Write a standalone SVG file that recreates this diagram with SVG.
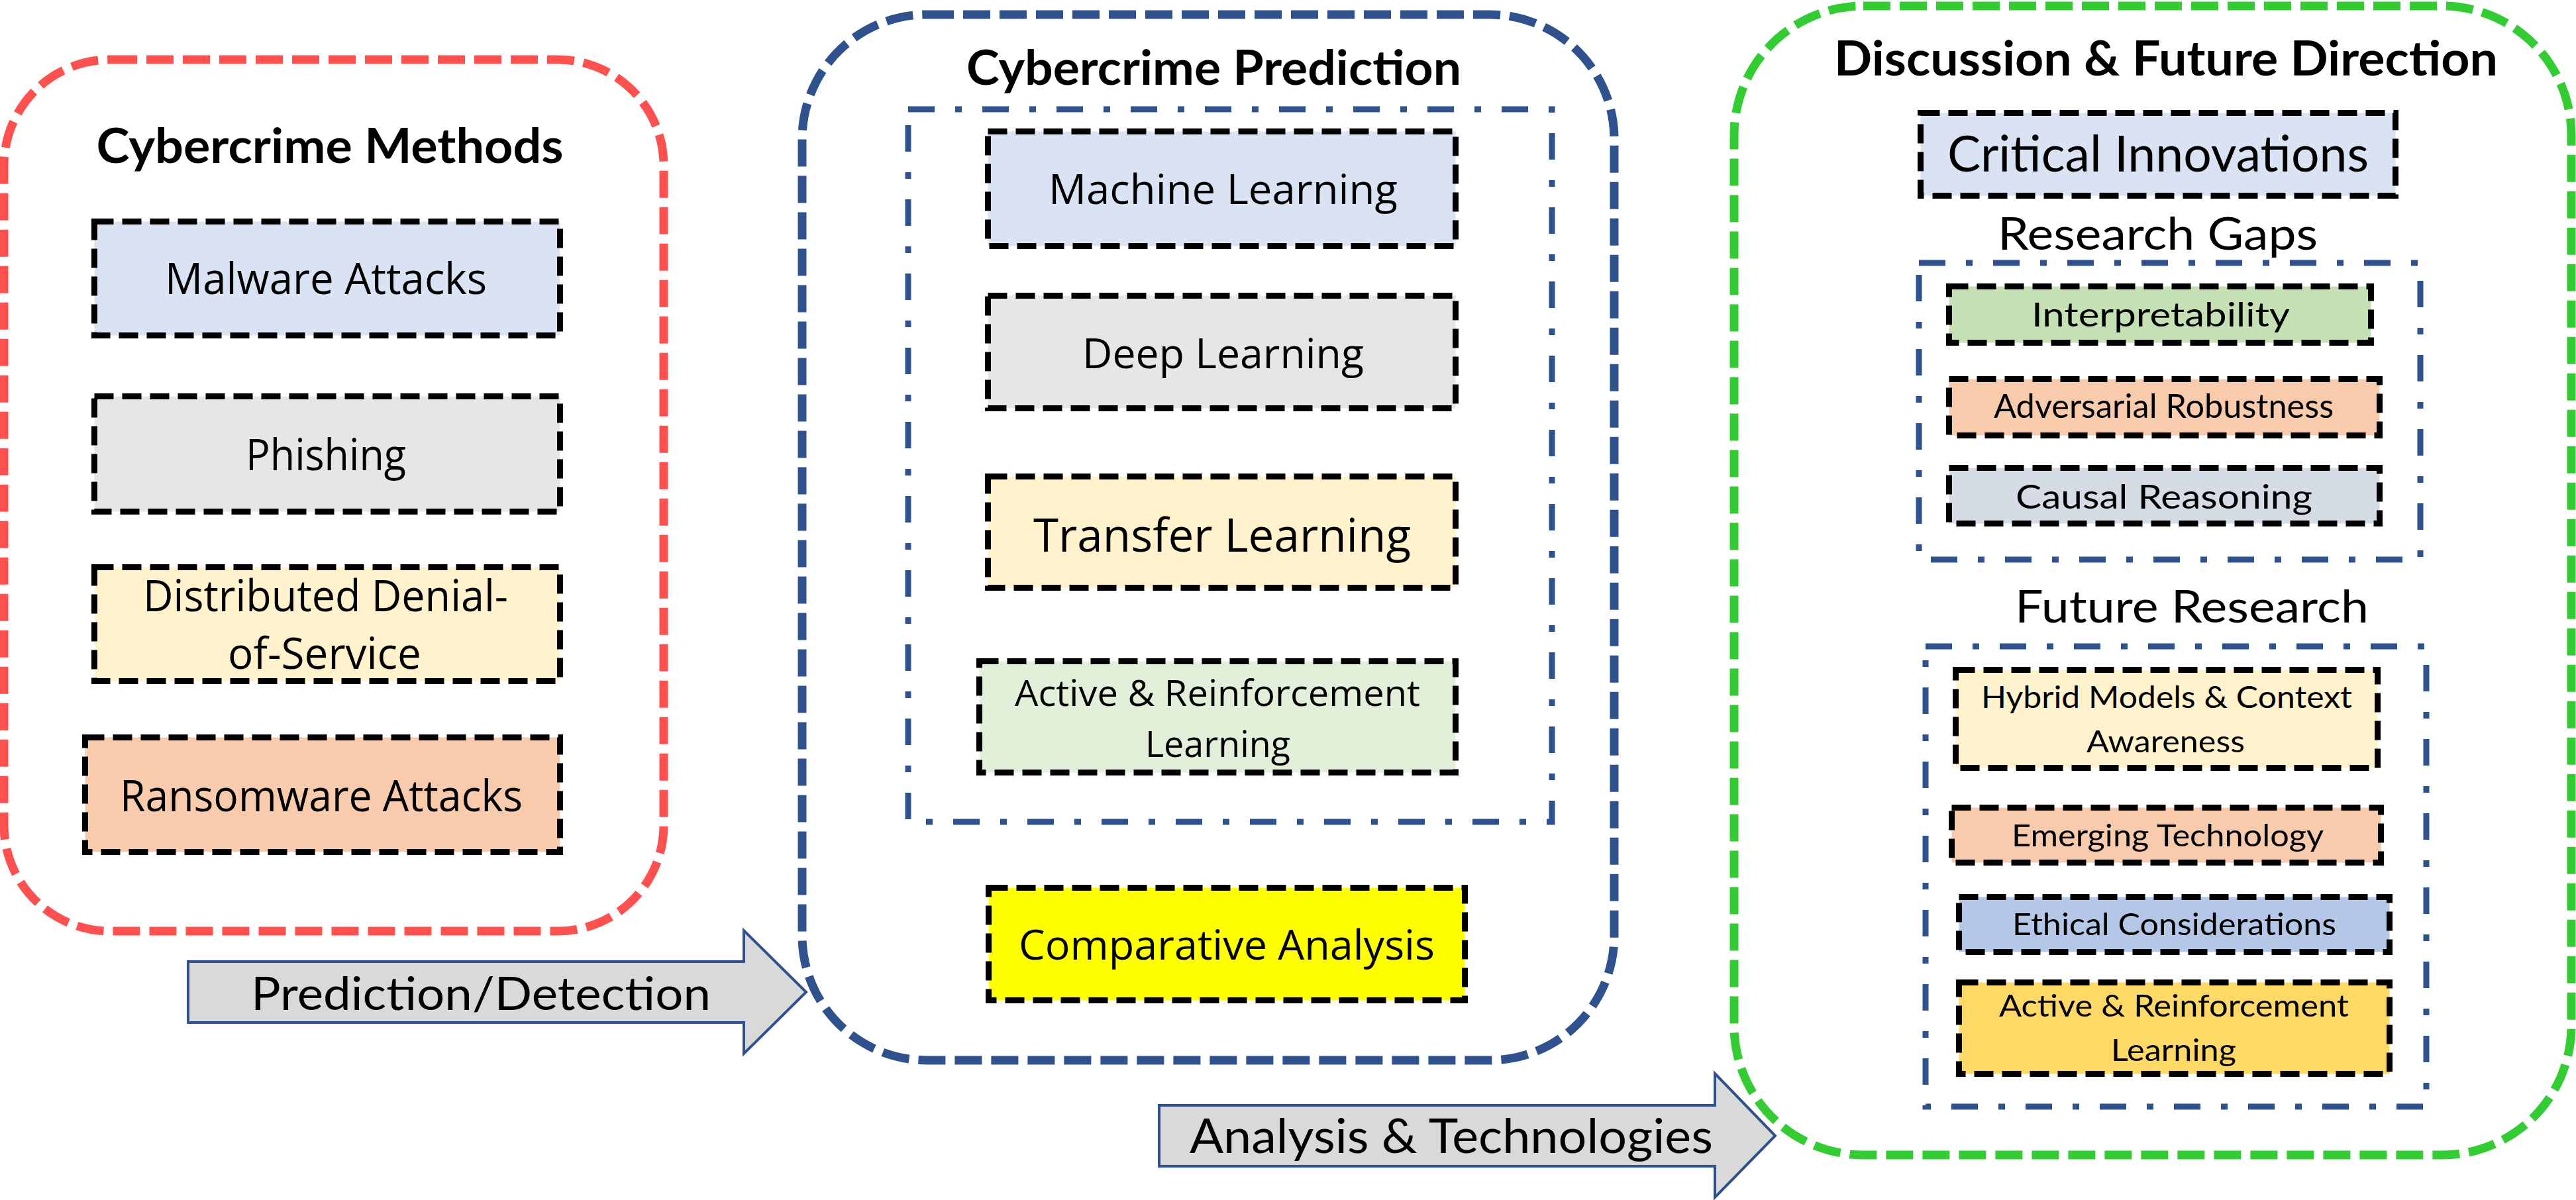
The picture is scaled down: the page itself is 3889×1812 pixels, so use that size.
<svg xmlns="http://www.w3.org/2000/svg" width="3889" height="1812" viewBox="0 0 3889 1812">
<style>
.bg{fill:#fff}
.grp{fill:none;stroke-width:13;stroke-dasharray:41 14}
.box{stroke:#000;stroke-width:9;stroke-dasharray:29 13}
.dd{fill:none;stroke:#2f528f;stroke-width:9;stroke-dasharray:40 31 10 31}
.arr{fill:#d9d9d9;stroke:#2f528f;stroke-width:4}
text{text-anchor:middle;fill:#000}
.s{font-family:"Open Sans","Noto Sans",sans-serif}
.c{font-family:Lato,"Open Sans",sans-serif}
.b{font-family:Lato,"Open Sans",sans-serif;font-weight:bold;font-size:72px}
</style>
<rect class="bg" x="0" y="0" width="3889" height="1812"/>

<g id="methods">
<rect class="grp" x="6" y="90" width="996" height="1316" rx="160" stroke="#ff5050"/>
<text class="b" x="498" y="246" textLength="705" lengthAdjust="spacingAndGlyphs">Cybercrime Methods</text>
</g>
<g id="malware">
<rect class="box" x="142.5" y="334.5" width="703" height="172" fill="#dae3f3"/>
<text class="s" x="492" y="444" font-size="65" textLength="486" lengthAdjust="spacingAndGlyphs">Malware Attacks</text>
</g>
<g id="phishing">
<rect class="box" x="142.5" y="598.5" width="703" height="174" fill="#e7e6e6"/>
<text class="s" x="492" y="710" font-size="65" textLength="242" lengthAdjust="spacingAndGlyphs">Phishing</text>
</g>
<g id="ddos">
<rect class="box" x="142.5" y="856.5" width="703" height="172" fill="#fff2cc"/>
<text class="s" x="491.5" y="923" font-size="65" fill="#262626" textLength="551" lengthAdjust="spacingAndGlyphs">Distributed Denial-</text>
<text class="s" x="490" y="1010" font-size="65" fill="#262626" textLength="292" lengthAdjust="spacingAndGlyphs">of-Service</text>
</g>
<g id="ransomware">
<rect class="box" x="128.5" y="1113.5" width="717" height="173" fill="#f8cbad"/>
<text class="s" x="485" y="1225" font-size="65" textLength="608" lengthAdjust="spacingAndGlyphs">Ransomware Attacks</text>
</g>

<g id="prediction">
<rect class="grp" x="1211" y="22" width="1226" height="1579" rx="188" stroke="#2f528f" stroke-width="14" stroke-dasharray="40 15"/>
<text class="b" x="1832.5" y="128" textLength="747" lengthAdjust="spacingAndGlyphs">Cybercrime Prediction</text>
<rect class="dd" x="1371" y="165" width="972" height="1076"/>
</g>
<g id="ml">
<rect class="box" x="1491.5" y="198.5" width="706" height="173" fill="#dae3f3"/>
<text class="s" x="1846.5" y="308" font-size="63" textLength="527" lengthAdjust="spacingAndGlyphs">Machine Learning</text>
</g>
<g id="dl">
<rect class="box" x="1491.5" y="446.5" width="706" height="170" fill="#e7e6e6"/>
<text class="s" x="1846.5" y="556" font-size="63" textLength="425" lengthAdjust="spacingAndGlyphs">Deep Learning</text>
</g>
<g id="tl">
<rect class="box" x="1491.5" y="719.5" width="706" height="168" fill="#fff2cc"/>
<text class="s" x="1845" y="833" font-size="70" textLength="570" lengthAdjust="spacingAndGlyphs">Transfer Learning</text>
</g>
<g id="arl">
<rect class="box" x="1478.5" y="998.5" width="719" height="168" fill="#e2f0d9"/>
<text class="s" x="1838" y="1066" font-size="54" textLength="612" lengthAdjust="spacingAndGlyphs">Active &amp; Reinforcement</text>
<text class="s" x="1838.5" y="1143" font-size="54" textLength="219" lengthAdjust="spacingAndGlyphs">Learning</text>
</g>
<g id="comparative">
<rect class="box" x="1492.5" y="1340.5" width="719" height="170" fill="#ffff00"/>
<text class="s" x="1852" y="1449" font-size="62" textLength="628" lengthAdjust="spacingAndGlyphs">Comparative Analysis</text>
</g>

<g id="discussion">
<rect class="grp" x="2618" y="9" width="1264" height="1735" rx="195" stroke="#33cc33" stroke-dasharray="40 15"/>
<text class="b" x="3270" y="114" textLength="1002" lengthAdjust="spacingAndGlyphs">Discussion &amp; Future Direction</text>
</g>
<g id="critical">
<rect class="box" x="2899.5" y="170.5" width="717" height="125" fill="#dae3f3"/>
<text class="c" x="3258" y="259" font-size="76" textLength="636" lengthAdjust="spacingAndGlyphs">Critical Innovations</text>
</g>
<g id="gaps">
<text class="c" x="3257.5" y="377" font-size="67" textLength="483" lengthAdjust="spacingAndGlyphs">Research Gaps</text>
<rect class="dd" x="2897" y="397" width="757" height="448"/>
</g>
<g id="interp">
<rect class="box" x="2942.5" y="432.5" width="637" height="85" fill="#c5e0b4"/>
<text class="c" x="3262" y="493" font-size="50" textLength="390" lengthAdjust="spacingAndGlyphs">Interpretability</text>
</g>
<g id="adversarial">
<rect class="box" x="2942.5" y="572.5" width="650" height="85" fill="#f8cbad"/>
<text class="c" x="3266.5" y="631" font-size="50" textLength="513" lengthAdjust="spacingAndGlyphs">Adversarial Robustness</text>
</g>
<g id="causal">
<rect class="box" x="2942.5" y="706.5" width="650" height="84" fill="#d6dce5"/>
<text class="c" x="3267" y="768" font-size="50" textLength="448" lengthAdjust="spacingAndGlyphs">Causal Reasoning</text>
</g>
<g id="future">
<text class="c" x="3309" y="940" font-size="67" textLength="534" lengthAdjust="spacingAndGlyphs">Future Research</text>
<rect class="dd" x="2907" y="976" width="756" height="695"/>
</g>
<g id="hybrid">
<rect class="box" x="2952.5" y="1011.5" width="637" height="148" fill="#fff2cc"/>
<text class="c" x="3271" y="1069" font-size="46" textLength="560" lengthAdjust="spacingAndGlyphs">Hybrid Models &amp; Context</text>
<text class="c" x="3269.5" y="1136" font-size="46" textLength="239" lengthAdjust="spacingAndGlyphs">Awareness</text>
</g>
<g id="emerging">
<rect class="box" x="2946.5" y="1219.5" width="648" height="83" fill="#f8cbad"/>
<text class="c" x="3272.5" y="1278" font-size="46" textLength="471" lengthAdjust="spacingAndGlyphs">Emerging Technology</text>
</g>
<g id="ethical">
<rect class="box" x="2957.5" y="1354.5" width="650" height="83" fill="#b4c7e7"/>
<text class="c" x="3282.5" y="1412" font-size="46" textLength="489" lengthAdjust="spacingAndGlyphs">Ethical Considerations</text>
</g>
<g id="arl2">
<rect class="box" x="2957.5" y="1483.5" width="650" height="138" fill="#ffd966"/>
<text class="c" x="3282" y="1535" font-size="47" textLength="528" lengthAdjust="spacingAndGlyphs">Active &amp; Reinforcement</text>
<text class="c" x="3281.5" y="1602" font-size="47" textLength="189" lengthAdjust="spacingAndGlyphs">Learning</text>
</g>

<g id="connectors">
<g id="arrow1">
<polygon class="arr" points="284,1452 1123,1452 1123,1405 1217,1498 1123,1591 1123,1544 284,1544"/>
<text class="c" x="726" y="1525" font-size="70" textLength="694" lengthAdjust="spacingAndGlyphs">Prediction/Detection</text>
</g>
<g id="arrow2">
<polygon class="arr" points="1750,1669 2589,1669 2589,1621 2680,1715 2589,1808 2589,1761 1750,1761"/>
<text class="c" x="2191" y="1741" font-size="71" textLength="790" lengthAdjust="spacingAndGlyphs">Analysis &amp; Technologies</text>
</g>
</g>
</svg>
